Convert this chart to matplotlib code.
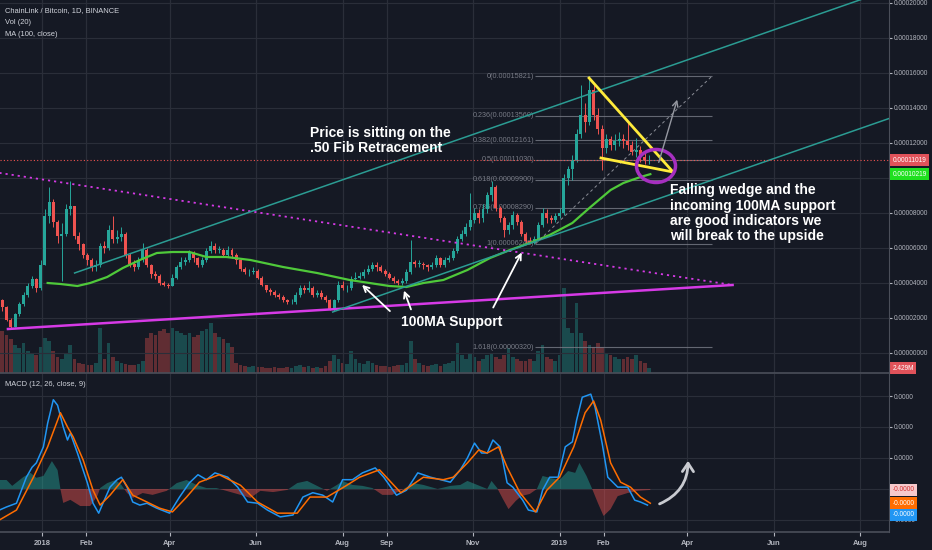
import datetime as dt
import numpy as np
import matplotlib
matplotlib.use("Agg")
import matplotlib.pyplot as plt
from matplotlib.patches import Ellipse, FancyArrowPatch
from matplotlib.ticker import FuncFormatter

# ---- data (prices in satoshi = 1e-8 BTC, days counted from 2018-01-01) ----
# 3-day candles, first one 28 days before 2018-01-01
candle_start = -28
candle_step = 3
first_open = 3000
closes = [2600, 1900, 1500, 2200, 2800, 3300, 3800, 4200, 3700, 5000,
          7800, 8600, 7500, 6700, 6800, 8200, 8400, 6700, 6200, 5600,
          5300, 4900, 5000, 6100, 6000, 7000, 6500, 6600, 6800, 5600,
          5100, 4900, 5300, 5900, 5000, 4500, 4400, 4000, 3900, 3800,
          4300, 4900, 5200, 5300, 5700, 5400, 5000, 5300, 5800, 6100,
          5900, 5900, 5600, 5900, 5600, 5300, 4800, 4600, 4600, 4700,
          4300, 3900, 3600, 3500, 3300, 3200, 3000, 2900, 2900, 3300,
          3700, 3600, 3700, 3300, 3400, 3200, 3000, 2500, 3000, 3900,
          3700, 3700, 4200, 4300, 4400, 4600, 4800, 5000, 4900, 4700,
          4500, 4300, 4100, 4000, 4100, 4600, 5200, 5100, 5100, 5000,
          4900, 5000, 5400, 5000, 5300, 5400, 5800, 6500, 6800, 7200,
          7600, 8000, 7700, 8200, 9000, 9500, 8300, 7700, 7000, 7300,
          7900, 7500, 6800, 6400, 6300, 6500, 7300, 8000, 7700, 7600,
          7800, 8000, 10000, 10500, 11000, 12500, 13600, 13200, 15000, 13600,
          12800, 11700, 12200, 11900, 12100, 12200, 12100, 11900, 11500, 11600,
          11200, 11000, 11019]
highs = [3100, 2700, 2000, 2300, 2900, 3500, 4000, 4400, 4300, 5300,
         8200, 9500, 8800, 7600, 7400, 8500, 9800, 8400, 6900, 6300,
         5700, 5400, 5300, 6300, 6400, 7300, 7800, 7000, 7200, 6900,
         5700, 5300, 5500, 6300, 6000, 5100, 4700, 4500, 4100, 4000,
         4500, 5000, 5500, 5500, 5900, 5800, 5500, 5500, 6000, 6400,
         6300, 6100, 6000, 6100, 6000, 5700, 5400, 4900, 4800, 4900,
         4800, 4400, 3900, 3700, 3600, 3400, 3300, 3100, 3100, 3500,
         3900, 3900, 4100, 3800, 3600, 3600, 3300, 3100, 3100, 4100,
         4100, 3900, 4400, 4600, 4600, 4800, 5000, 5200, 5200, 5000,
         4800, 4600, 4400, 4200, 4300, 4800, 6450, 5300, 5300, 5200,
         5100, 5200, 5600, 5500, 5500, 5600, 6000, 6700, 7000, 7400,
         9140, 8300, 8200, 8500, 9200, 9800, 9600, 8400, 7800, 7500,
         8100, 8000, 7600, 6900, 6600, 6700, 7500, 8300, 8200, 7900,
         8000, 8300, 10200, 10700, 11300, 12800, 15300, 14300, 15821, 15300,
         14000, 13000, 12500, 12400, 12500, 12600, 12500, 13200, 12100, 12300,
         11800, 11400, 11300]
lows = [2400, 1800, 1430, 1500, 2100, 2700, 3200, 3700, 3500, 3600,
        5000, 7400, 7200, 6300, 4100, 6700, 7900, 6500, 5900, 5400,
        5000, 4700, 4700, 4900, 5700, 5900, 6300, 6300, 6400, 5400,
        4900, 4700, 4800, 5200, 4900, 4300, 4200, 3900, 3800, 3700,
        3800, 4200, 4800, 5000, 5200, 5200, 4900, 4900, 5200, 5700,
        5700, 5700, 5500, 5500, 5400, 5100, 4700, 4500, 4400, 4500,
        4200, 3800, 3500, 3300, 3200, 3100, 2900, 2800, 2800, 2800,
        3200, 3400, 3500, 3200, 3200, 3100, 2900, 2460, 2400, 2900,
        3600, 3500, 3600, 4100, 4200, 4300, 4500, 4700, 4700, 4600,
        4400, 4200, 4000, 3900, 3900, 4000, 4500, 4900, 4900, 4800,
        4700, 4800, 4900, 4900, 4900, 5200, 5300, 5700, 6400, 6700,
        7000, 7400, 7400, 7500, 8000, 8700, 8100, 7500, 6600, 6800,
        7100, 7300, 6700, 6200, 6200, 6200, 6400, 7200, 7400, 7400,
        7500, 7700, 7900, 9600, 9900, 10900, 12300, 12600, 13000, 13300,
        12500, 10460, 11400, 11600, 11600, 11800, 11700, 11600, 11300, 11200,
        10900, 10800, 10800]
volumes_m = [21, 19, 17, 14, 12.5, 15, 11, 10, 9, 13,
             17.5, 16, 11, 8, 7, 10, 14, 7, 5, 4.5,
             4, 4, 5, 22.5, 7, 15, 8, 6, 5, 4.5,
             4, 4, 4.5, 6, 17.5, 20, 19, 21, 22, 20,
             22.5, 21, 20, 19, 20, 18, 19, 21, 22, 25,
             20, 18, 17, 15, 13, 5, 4, 3.5, 3, 3.5,
             3, 3, 2.5, 2.5, 3, 2.5, 2.5, 3, 2.5, 3.5,
             4, 3, 3.5, 2.5, 3, 2.5, 3.5, 6, 9, 7,
             5, 4.5, 11, 7, 5, 4.5, 6, 5, 4, 3.5,
             3.5, 3, 3.5, 4, 4, 5, 16, 7, 5, 4,
             3.5, 4, 4.5, 3.5, 4.5, 5, 6, 15, 9, 7,
             10, 8, 6, 7, 9, 10, 8, 7, 9, 12.5,
             8, 7, 6, 6, 7, 6, 11, 14, 8, 7,
             6, 9, 42.5, 22.5, 20, 35, 20, 16, 14, 13,
             15, 13, 10, 9, 8, 7, 7, 8, 7, 9,
             6, 5, 2.429]

# MA(100)
ma_days = [4, 13, 25, 34, 46, 57, 69, 81, 92, 104, 116, 130, 147, 170, 194, 217,
           231, 245, 257, 269, 283, 300, 316, 330, 344, 358, 374, 386, 401, 410,
           422, 429]
ma_vals = [4000, 3943, 3828, 4000, 4343, 4857, 5314, 5714, 5771, 5771, 5486, 5486,
           5314, 4914, 4571, 4171, 4000, 3828, 3771, 4000, 4171, 4743, 5429, 5886,
           6286, 6743, 7429, 8286, 9314, 9714, 10057, 10219]

# MACD(12, 26, 9), same units
macd_days = [-30, -25, -18, -11, -7, -4, 1, 4, 8, 11, 15, 18, 20, 25, 32, 36, 40, 43,
             48, 53, 56, 60, 64, 69, 74, 81, 90, 97, 104, 110, 116, 122, 131, 138,
             145, 152, 159, 168, 177, 184, 191, 198, 205, 212, 219, 226, 235, 241,
             250, 257, 265, 274, 281, 288, 295, 300, 305, 310, 314, 318, 323, 328,
             332, 339, 343, 349, 353, 358, 364, 369, 374, 377, 381, 387, 390, 395,
             399, 406, 413, 418, 422, 427]
macd_vals = [-340, -290, -230, 190, 350, 420, 680, 1060, 1440, 1350, 1000, 790, 900,
             580, 100, -230, -390, -230, 30, 150, 190, 30, -210, -260, -230, -310,
             -390, -130, 100, 230, 150, 260, 190, 30, -210, -230, -340, -450, -420,
             -130, -60, -100, -210, 150, 150, 260, 340, 190, -100, -20, 260, 190,
             150, 110, 310, 500, 740, 580, 580, 790, 680, 100, 30, -180, -340, -370,
             -20, 190, 190, 680, 760, 1110, 1480, 1530, 1320, 740, 190, 30, 30,
             -180, -210, -260]
signal_days = [-30, -18, -6, 4, 13, 18, 22, 29, 36, 41, 48, 57, 64, 74, 83, 92, 102,
               111, 125, 140, 152, 166, 180, 189, 201, 215, 224, 238, 253, 269, 283,
               290, 300, 308, 314, 322, 328, 337, 348, 356, 365, 375, 383, 389, 394,
               401, 408, 415, 422, 429]
signal_vals = [-500, -340, 190, 680, 1230, 1000, 840, 470, -20, -260, -100, 150,
               -100, -210, -310, -370, -130, 110, 230, 60, -210, -390, -390, -130,
               -130, 60, 190, 310, -60, 190, 150, 190, 420, 630, 580, 680, 350, -60,
               -370, -20, 190, 680, 1230, 1420, 1110, 420, 110, 30, -130, -230]
hist_days = [-30, -25, -21, -13, -8, -4, 1, 7, 11, 13, 15, 20, 27, 34, 39, 41, 46,
             52, 56, 60, 64, 71, 78, 88, 95, 102, 109, 116, 123, 130, 140, 147, 154,
             163, 173, 180, 187, 194, 201, 208, 212, 219, 226, 233, 240, 247, 255,
             262, 269, 279, 288, 295, 300, 307, 314, 317, 321, 325, 329, 334, 338,
             344, 349, 353, 358, 365, 371, 376, 379, 384, 388, 392, 396, 401, 406,
             413, 420, 429]
hist_vals = [145, 145, 50, 195, 260, 180, 210, 450, 305, 0, -225, -175, -275, -275,
             -115, 15, 95, 145, 65, -65, -145, -65, -95, -30, 95, 145, 65, 15, 15,
             -30, -95, -145, -30, -50, -15, 95, 130, 50, -30, 65, 130, 65, 50, 15,
             -95, -95, 0, 95, 65, 0, 50, 65, 130, 65, 0, 130, 15, -160, -325, -195,
             -115, -80, 0, 210, 180, 145, 290, 260, 420, 210, 0, -225, -435, -325,
             -115, -65, -30, -15]

fib_ratios = [0, 0.236, 0.382, 0.5, 0.618, 0.786, 1, 1.618]
fib_prices = [15821, 13560, 12161, 11030, 9900, 8290, 6240, 320]

last_price = 11019
last_ma = 10219
last_volume = 2.429

tick_dates = [dt.date(2018, 1, 1), dt.date(2018, 2, 1), dt.date(2018, 4, 1),
              dt.date(2018, 6, 1), dt.date(2018, 8, 1), dt.date(2018, 9, 1),
              dt.date(2018, 11, 1), dt.date(2019, 1, 1), dt.date(2019, 2, 1),
              dt.date(2019, 4, 1), dt.date(2019, 6, 1), dt.date(2019, 8, 1)]
tick_labels = ["2018", "Feb", "Apr", "Jun", "Aug", "Sep", "Nov", "2019", "Feb",
               "Apr", "Jun", "Aug"]

# ---- style ----
BG = "#151924"
GRID = "#2a2e39"
SEP = "#4a4e59"
TXT = "#b2b5be"
UP = "#26a69a"
DOWN = "#ef5350"
plt.rcParams['font.family'] = ['Liberation Sans', 'DejaVu Sans']

W, H = 932, 550


def rect(x0, y0, x1, y1):
    return [x0 / W, 1 - y1 / H, (x1 - x0) / W, (y1 - y0) / H]


fig = plt.figure(figsize=(9.32, 5.5), dpi=100)
fig.patch.set_facecolor(BG)

ax_vol = fig.add_axes(rect(0, 0, 889, 373))
ax = fig.add_axes(rect(0, 0, 889, 373), sharex=ax_vol)
ax_m = fig.add_axes(rect(0, 374, 889, 532), sharex=ax_vol)
ax_vol.set_facecolor(BG)
ax.patch.set_visible(False)
ax_m.set_facecolor(BG)

ax.set_xlim(-29.6, 597.3)
ax.set_ylim(-1143, 20171)
ax_vol.set_ylim(0, 186.5)
ax_m.set_ylim(-694, 1855)

tick_days = [(d - dt.date(2018, 1, 1)).days for d in tick_dates]

# candles
closes = np.array(closes, dtype=float)
opens = np.r_[first_open, closes[:-1]]
days = candle_start + candle_step * np.arange(len(closes))
cols = np.where(closes >= opens, UP, DOWN)
ax.vlines(days, lows, highs, colors=cols, lw=0.7, zorder=3)
ax.bar(days, np.maximum(np.abs(closes - opens), 40), bottom=np.minimum(opens, closes),
       width=2.1, color=cols, linewidth=0, zorder=4)

# volume
ax_vol.bar(days, volumes_m, width=2.6, color=cols, alpha=0.35, linewidth=0)

# MA 100
ax.plot(ma_days, ma_vals, color="#4fc93a", lw=1.6, zorder=5)

# drawings
ax.plot([-30, 487], [10291, 3886], color="#d63ae6", lw=1.3, ls=(0, (1.2, 2.2)), zorder=6)
ax.plot([-24, 487], [1371, 3886], color="#d63ae6", lw=1.8, zorder=6)
ax.plot([23, 605], [4571, 20971], color="#2b9c93", lw=1.1, zorder=6)
ax.plot([205, 647], [2343, 14800], color="#2b9c93", lw=1.1, zorder=6)

fib_start, fib_end = 348, 472.5
ax.hlines(fib_prices, fib_start, fib_end, colors="#787b86", lw=0.8, alpha=0.8, zorder=2)
for r, p in zip(fib_ratios, fib_prices):
    ax.text(fib_start - 1, p, f"{r:g}({p * 1e-8:.8f})", color="#787b86",
            fontsize=5.2, ha="right", va="center", zorder=2)
ax.plot([fib_start, fib_end], [6240, 15821], color="#8a8d96", lw=0.7,
        ls=(0, (3, 3)), zorder=6)

ax.axhline(last_price, color=DOWN, lw=0.8, ls=(0, (1, 2)), zorder=6)

ax.plot([385.8, 445.0], [15714, 10343], color="#ffeb3b", lw=2, zorder=7)
ax.plot([394.2, 445.0], [11143, 10343], color="#ffeb3b", lw=2, zorder=7)
ax.add_patch(Ellipse((433.0, 10686), 27.5, 1886, fill=False, ec="#a62fc0", lw=2.5,
                     zorder=8))
ax.annotate("", xy=(448.5, 14629), xytext=(434.4, 10743),
            arrowprops=dict(arrowstyle="->", color="#9598a1", lw=1), zorder=8)

white_arrows = [((224.3, 4000), (246.8, 2286)), ((254.6, 3714), (260.9, 2343)),
                ((339.2, 5886), (317.3, 2457))]
for head, tail in white_arrows:
    ax.annotate("", xy=head, xytext=tail,
                arrowprops=dict(arrowstyle="->", color="white", lw=1.3), zorder=9)

bold = dict(color="white", fontsize=10, fontweight="bold", zorder=9, linespacing=1.12)
ax.text(189, 12140, "Price is sitting on the\n.50 Fib Retracement", ha="left",
        va="center", **bold)
ax.text(443, 7990, "Falling wedge and the\nincoming 100MA support\n"
        "are good indicators we\nwill break to the upside", ha="left", va="center", **bold)
ax.text(289, 1771, "100MA Support", ha="center", va="center", **bold)

# MACD
ax_m.fill_between(hist_days, hist_vals, 0, where=np.array(hist_vals) >= 0,
                  interpolate=True, color=UP, alpha=0.45, lw=0)
ax_m.fill_between(hist_days, hist_vals, 0, where=np.array(hist_vals) <= 0,
                  interpolate=True, color=DOWN, alpha=0.45, lw=0)
ax_m.plot(macd_days, macd_vals, color="#2196f3", lw=1.1, zorder=4)
ax_m.plot(signal_days, signal_vals, color="#ff6d00", lw=1.1, zorder=4)
ax_m.add_patch(FancyArrowPatch((433.7, -258), (455.6, 500),
                               connectionstyle="arc3,rad=0.35",
                               arrowstyle="->,head_length=0.6,head_width=0.4",
                               mutation_scale=10, color="#c8cad0", lw=2, zorder=6))

# axes cosmetics
for a in (ax, ax_vol, ax_m):
    for s in a.spines.values():
        s.set_visible(False)
    a.set_xticks(tick_days)
    a.grid(axis="x", color=GRID, lw=0.8)
ax.grid(axis="y", color=GRID, lw=0.8)
ax_m.grid(axis="y", color=GRID, lw=0.8)
ax.set_axisbelow(True)
ax_m.set_axisbelow(True)

# labels that sit behind the value tags are hidden, as on the original
hidden_price_ticks = [10000]
hidden_macd_ticks = [0]

ax.yaxis.tick_right()
ax.set_yticks(np.arange(0, 20001, 2000))
ax.yaxis.set_major_formatter(FuncFormatter(
    lambda v, p: "" if round(v) in hidden_price_ticks else f"{v * 1e-8:.8f}"))
ax.tick_params(axis="y", colors=TXT, labelsize=4.7, length=2, pad=1.5)
ax.tick_params(axis="x", length=0, labelbottom=False)
ax_vol.tick_params(left=False, labelleft=False, bottom=False, labelbottom=False)

ax_m.yaxis.tick_right()
ax_m.set_yticks([-500, 0, 500, 1000, 1500])
ax_m.yaxis.set_major_formatter(FuncFormatter(
    lambda v, p: "" if round(v) in hidden_macd_ticks else f"{v * 1e-8:.4f}"))
ax_m.tick_params(axis="y", colors=TXT, labelsize=4.7, length=2, pad=1.5)
ax_m.set_xticklabels(tick_labels)
ax_m.tick_params(axis="x", colors=TXT, labelsize=5.5, length=3, pad=3)
for lbl in ax_m.get_xticklabels():
    lbl.set_fontweight("bold")

for a in (ax, ax_m):
    a.spines["right"].set_visible(True)
    a.spines["right"].set_color(SEP)
    a.spines["bottom"].set_visible(True)
    a.spines["bottom"].set_color(SEP)
    a.spines["bottom"].set_linewidth(1.2)


# value tags on the price scale
def tag(axis, y, text, fc, tc, dy=0):
    axis.annotate(text, xy=(1, y), xycoords=("axes fraction", "data"),
                  xytext=(2.5, dy), textcoords="offset points", fontsize=4.7, color=tc,
                  va="center", ha="left", annotation_clip=False, zorder=20,
                  bbox=dict(boxstyle="square,pad=0.35", fc=fc, ec="none"))


tag(ax, last_price, f"{last_price * 1e-8:.8f}", "#e0525a", "white")
tag(ax, last_ma, f"{last_ma * 1e-8:.8f}", "#1fe01f", "white")
tag(ax_vol, last_volume, f"{last_volume:.3f}M", "#e0525a", "white")
tag(ax_m, hist_vals[-1], f"{hist_vals[-1] * 1e-8:.4f}", "#f6c9cc", "#d32f2f")
tag(ax_m, signal_vals[-1], f"{signal_vals[-1] * 1e-8:.4f}", "#ff6d00", "white")
tag(ax_m, macd_vals[-1], f"{macd_vals[-1] * 1e-8:.4f}", "#2196f3", "white", dy=-7)

# legends at top-left of panes
head = dict(color="#d1d4dc", fontsize=5.4, ha="left", va="center")
fig.text(5 / W, 1 - 11 / H, "ChainLink / Bitcoin, 1D, BINANCE", **head)
fig.text(5 / W, 1 - 23 / H, "Vol (20)", **head)
fig.text(5 / W, 1 - 34 / H, "MA (100, close)", **head)
fig.text(5 / W, 1 - 385 / H, "MACD (12, 26, close, 9)", **head)

fig.savefig("out.png", dpi=100, facecolor=BG)
